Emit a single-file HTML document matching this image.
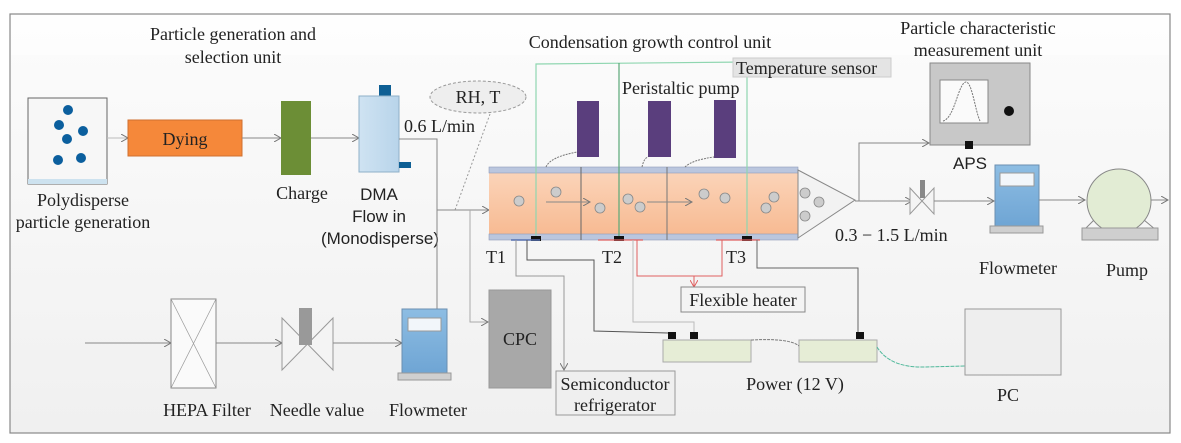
<!DOCTYPE html>
<html><head><meta charset="utf-8"><style>
html,body{margin:0;padding:0;background:#fff;}
svg{display:block;}
text{font-family:"Liberation Serif",serif;font-size:18px;fill:#222;}
.s{font-family:"Liberation Sans",sans-serif;font-size:17px;}
</style></head><body>
<svg width="1181" height="443" viewBox="0 0 1181 443" xmlns="http://www.w3.org/2000/svg">
<defs>
<linearGradient id="bg" x1="0" y1="0" x2="0" y2="1"><stop offset="0" stop-color="#fcfcfc"/><stop offset="1" stop-color="#f0f0f0"/></linearGradient>
<linearGradient id="tube" x1="0" y1="0" x2="0" y2="1"><stop offset="0" stop-color="#fbd6bc"/><stop offset="1" stop-color="#f7b88f"/></linearGradient>
<linearGradient id="blue" x1="0" y1="0" x2="0" y2="1"><stop offset="0" stop-color="#8dbde3"/><stop offset="1" stop-color="#6fa5d4"/></linearGradient>
<linearGradient id="dma" x1="0" y1="0" x2="1" y2="0"><stop offset="0" stop-color="#cfe3f2"/><stop offset="1" stop-color="#b8d4ea"/></linearGradient>
<marker id="ar" markerWidth="8" markerHeight="8" refX="7" refY="4" orient="auto" markerUnits="userSpaceOnUse"><path d="M0,0 L7,4 L0,8" fill="none" stroke="#777" stroke-width="1"/></marker>
<marker id="arr" markerWidth="8" markerHeight="8" refX="7" refY="4" orient="auto" markerUnits="userSpaceOnUse"><path d="M0,0 L7,4 L0,8" fill="none" stroke="#e06060" stroke-width="1"/></marker>
</defs>
<rect x="10" y="14" width="1160" height="419" fill="url(#bg)" stroke="#888" stroke-width="1.2"/>
<rect x="11" y="15" width="1158" height="40" fill="#fff" opacity="0.6"/>

<text x="233" y="40" text-anchor="middle">Particle generation and</text>
<text x="233" y="63" text-anchor="middle">selection unit</text>
<text x="650" y="48" text-anchor="middle">Condensation growth control  unit</text>
<text x="978" y="34" text-anchor="middle">Particle characteristic</text>
<text x="978" y="56" text-anchor="middle">measurement unit</text>

<rect x="28" y="98" width="79" height="86" fill="#f7f7f7" stroke="#666"/>
<rect x="28" y="179" width="79" height="5" fill="#cde2ef"/>
<g fill="#0b5f9e"><circle cx="68" cy="110" r="5"/><circle cx="59" cy="125" r="5"/><circle cx="83" cy="131" r="5"/><circle cx="67" cy="139" r="5"/><circle cx="58" cy="160" r="5"/><circle cx="81" cy="158" r="5"/></g>
<text x="83" y="206" text-anchor="middle">Polydisperse</text>
<text x="83" y="228" text-anchor="middle">particle generation</text>
<line x1="107" y1="138" x2="128" y2="138" stroke="#bbb" marker-end="url(#ar)"/>
<rect x="128" y="120" width="114" height="36" fill="#f5883a" stroke="#d07030"/>
<text x="185" y="145" text-anchor="middle" font-size="19">Dying</text>
<line x1="242" y1="138" x2="281" y2="138" stroke="#888" marker-end="url(#ar)"/>
<rect x="281" y="101" width="30" height="74" fill="#6c8e36"/>
<text x="302" y="199" text-anchor="middle">Charge</text>
<line x1="311" y1="138" x2="359" y2="138" stroke="#888" marker-end="url(#ar)"/>
<rect x="379" y="85" width="12" height="11" fill="#0e5f94"/>
<rect x="359" y="96" width="40" height="76" fill="url(#dma)" stroke="#8fb0c8"/>
<rect x="399" y="162" width="12" height="6" fill="#0e5f94"/>
<text class="s" x="379" y="200" text-anchor="middle">DMA</text>
<text class="s" x="379" y="222" text-anchor="middle">Flow in</text>
<text class="s" x="380" y="244" text-anchor="middle">(Monodisperse)</text>
<text x="404" y="132">0.6 L/min</text>
<polyline points="399,139 437,139 437,309" fill="none" stroke="#888"/>
<line x1="437" y1="210" x2="489" y2="210" stroke="#888" marker-end="url(#ar)"/>
<ellipse cx="478" cy="97" rx="48" ry="16" fill="#eee" stroke="#999" stroke-dasharray="3,2"/>
<text x="478" y="103" text-anchor="middle">RH, T</text>
<line x1="490" y1="114" x2="455" y2="210" stroke="#999" stroke-dasharray="2,2"/>
<polyline points="470,210 470,322 488,322" fill="none" stroke="#aaa" marker-end="url(#ar)"/>

<rect x="489" y="167" width="309" height="73" fill="url(#tube)"/>
<rect x="489" y="167" width="309" height="6" fill="#bac6de" stroke="#8f9cba" stroke-width="0.6"/>
<rect x="489" y="234" width="309" height="6" fill="#bac6de" stroke="#8f9cba" stroke-width="0.6"/>
<line x1="581" y1="167" x2="581" y2="240" stroke="#666"/>
<line x1="667" y1="167" x2="667" y2="240" stroke="#777"/>
<polygon points="798,170 855,200 798,238" fill="#f2f2f2" stroke="#888"/>
<g fill="#ccc" stroke="#888" stroke-width="0.8">
<circle cx="519" cy="201" r="5"/><circle cx="556" cy="192" r="5"/><circle cx="600" cy="208" r="5"/><circle cx="628" cy="199" r="5"/><circle cx="640" cy="207" r="5"/><circle cx="704" cy="194" r="5"/><circle cx="725" cy="198" r="5"/><circle cx="774" cy="197" r="5"/><circle cx="766" cy="208" r="5"/><circle cx="805" cy="193" r="5"/><circle cx="819" cy="202" r="5"/><circle cx="805" cy="216" r="5"/></g>
<line x1="546" y1="202" x2="590" y2="202" stroke="#888" marker-end="url(#ar)"/>
<line x1="647" y1="202" x2="692" y2="202" stroke="#888" marker-end="url(#ar)"/>
<rect x="577" y="101" width="22" height="56" fill="#5a3e7d"/>
<rect x="648" y="101" width="23" height="56" fill="#5a3e7d"/>
<rect x="714" y="100" width="22" height="58" fill="#5a3e7d"/>
<path d="M546,167 Q550,157 577,152" fill="none" stroke="#777" stroke-dasharray="2,1"/>
<path d="M642,167 Q644,158 648,157" fill="none" stroke="#777" stroke-dasharray="2,1"/>
<path d="M685,167 Q692,160 714,157" fill="none" stroke="#777" stroke-dasharray="2,1"/>
<text x="622" y="94">Peristaltic pump</text>
<polyline points="536,238 536,64 747,62 747,238" fill="none" stroke="#8fd6b0" stroke-width="1.2"/>
<line x1="619" y1="63" x2="619" y2="238" stroke="#5aa878" stroke-width="1.2"/>
<rect x="733" y="58" width="158" height="19" fill="#e4e4e4" stroke="#ccc"/>
<text x="736" y="74">Temperature sensor</text>
<rect x="531" y="236" width="10" height="5" fill="#111"/>
<rect x="614" y="236" width="10" height="5" fill="#111"/>
<rect x="742" y="236" width="10" height="5" fill="#111"/>
<line x1="511" y1="240" x2="540" y2="240" stroke="#5670b0" stroke-width="1.5"/>
<line x1="598" y1="240" x2="643" y2="240" stroke="#e06060" stroke-width="1.2"/>
<line x1="716" y1="240" x2="760" y2="240" stroke="#e06060" stroke-width="1.2"/>
<text x="486" y="263" font-size="20">T1</text>
<text x="602" y="263" font-size="20">T2</text>
<text x="726" y="263" font-size="20">T3</text>
<polyline points="637,240 637,276 722,276 722,240" fill="none" stroke="#e06060"/>
<line x1="694" y1="276" x2="694" y2="287" stroke="#e06060" marker-end="url(#arr)"/>
<rect x="681" y="287" width="124" height="25" fill="#f4f4f4" stroke="#888"/>
<text x="743" y="306" text-anchor="middle">Flexible heater</text>
<polyline points="516,240 516,276 564,276 564,370" fill="none" stroke="#999" marker-end="url(#ar)"/>
<polyline points="527,240 527,260 594,260 594,331 668,333" fill="none" stroke="#555"/>
<polyline points="633,240 633,322 694,322 694,333" fill="none" stroke="#bbb"/>
<polyline points="757,240 757,268 858,268 858,333" fill="none" stroke="#666"/>
<rect x="489" y="290" width="62" height="98" fill="#a8a8a8" stroke="#999"/>
<text x="520" y="345" text-anchor="middle" font-size="19">CPC</text>
<rect x="556" y="371" width="119" height="44" fill="#efefef" stroke="#999"/>
<text x="615" y="390" text-anchor="middle">Semiconductor</text>
<text x="615" y="411" text-anchor="middle">refrigerator</text>
<rect x="663" y="340" width="88" height="22" fill="#e6edd6" stroke="#aaa"/>
<rect x="799" y="340" width="78" height="22" fill="#e6edd6" stroke="#aaa"/>
<rect x="668" y="332" width="8" height="7" fill="#111"/>
<rect x="690" y="332" width="8" height="7" fill="#111"/>
<rect x="856" y="332" width="8" height="7" fill="#111"/>
<path d="M751,340 Q790,338 799,346" fill="none" stroke="#777" stroke-dasharray="3,1"/>
<path d="M877,347 Q890,368 925,367 L965,366" fill="none" stroke="#4fb89a" stroke-dasharray="4,1"/>
<text x="795" y="390" text-anchor="middle">Power (12 V)</text>
<rect x="965" y="309" width="96" height="66" fill="#eeeeee" stroke="#999"/>
<text x="1008" y="401" text-anchor="middle">PC</text>
<line x1="85" y1="343" x2="171" y2="343" stroke="#888" marker-end="url(#ar)"/>
<rect x="171" y="299" width="45" height="89" fill="#fafafa" stroke="#888"/>
<line x1="171" y1="299" x2="216" y2="388" stroke="#999" stroke-width="0.7"/><line x1="216" y1="299" x2="171" y2="388" stroke="#999" stroke-width="0.7"/>
<line x1="216" y1="343" x2="282" y2="343" stroke="#888" marker-end="url(#ar)"/>
<polygon points="282,318 333,370 333,318 282,370" fill="#f4f4f4" stroke="#999"/>
<rect x="299" y="308" width="13" height="37" fill="#999"/>
<line x1="333" y1="343" x2="402" y2="343" stroke="#888" marker-end="url(#ar)"/>
<rect x="402" y="309" width="45" height="64" fill="url(#blue)" stroke="#6b8fb0"/>
<rect x="408" y="318" width="33" height="13" fill="#f2f6fa" stroke="#999"/>
<rect x="398" y="373" width="53" height="7" fill="#cfcfcf" stroke="#999"/>
<text x="207" y="416" text-anchor="middle">HEPA Filter</text>
<text x="317" y="416" text-anchor="middle">Needle value</text>
<text x="428" y="416" text-anchor="middle">Flowmeter</text>
<line x1="855" y1="201" x2="912" y2="201" stroke="#888" marker-end="url(#ar)"/>
<polyline points="859,201 859,143 929,143" fill="none" stroke="#888" marker-end="url(#ar)"/>
<polygon points="910,188 934,214 934,188 910,214" fill="#f4f4f4" stroke="#999"/>
<rect x="920" y="180" width="5" height="18" fill="#888"/>
<line x1="934" y1="201" x2="994" y2="201" stroke="#888" marker-end="url(#ar)"/>
<text x="835" y="241">0.3 − 1.5 L/min</text>
<rect x="930" y="63" width="100" height="82" fill="#c8c8c8" stroke="#888"/>
<rect x="940" y="80" width="48" height="43" fill="#fafafa" stroke="#888"/>
<path d="M943,121 C955,118 958,83 966,82 C972,82 975,110 980,121" fill="none" stroke="#777" stroke-dasharray="2,1"/>
<circle cx="1009" cy="111" r="5" fill="#111"/>
<rect x="965" y="141" width="8" height="8" fill="#111"/>
<text class="s" x="970" y="169" text-anchor="middle">APS</text>
<rect x="995" y="165" width="44" height="61" fill="url(#blue)" stroke="#6b8fb0"/>
<rect x="1000" y="173" width="34" height="13" fill="#f2f6fa" stroke="#999"/>
<rect x="990" y="226" width="53" height="7" fill="#cfcfcf" stroke="#999"/>
<text x="1018" y="274" text-anchor="middle">Flowmeter</text>
<line x1="1039" y1="200" x2="1085" y2="200" stroke="#888" marker-end="url(#ar)"/>
<line x1="1094" y1="220" x2="1084" y2="230" stroke="#888"/><line x1="1144" y1="220" x2="1156" y2="230" stroke="#888"/>
<circle cx="1119" cy="201" r="32" fill="#e2ecd4" stroke="#888"/>
<rect x="1082" y="228" width="76" height="12" fill="#cfcfcf" stroke="#999"/>
<line x1="1151" y1="200" x2="1168" y2="200" stroke="#888" marker-end="url(#ar)"/>
<text x="1127" y="276" text-anchor="middle">Pump</text>
</svg>
</body></html>
